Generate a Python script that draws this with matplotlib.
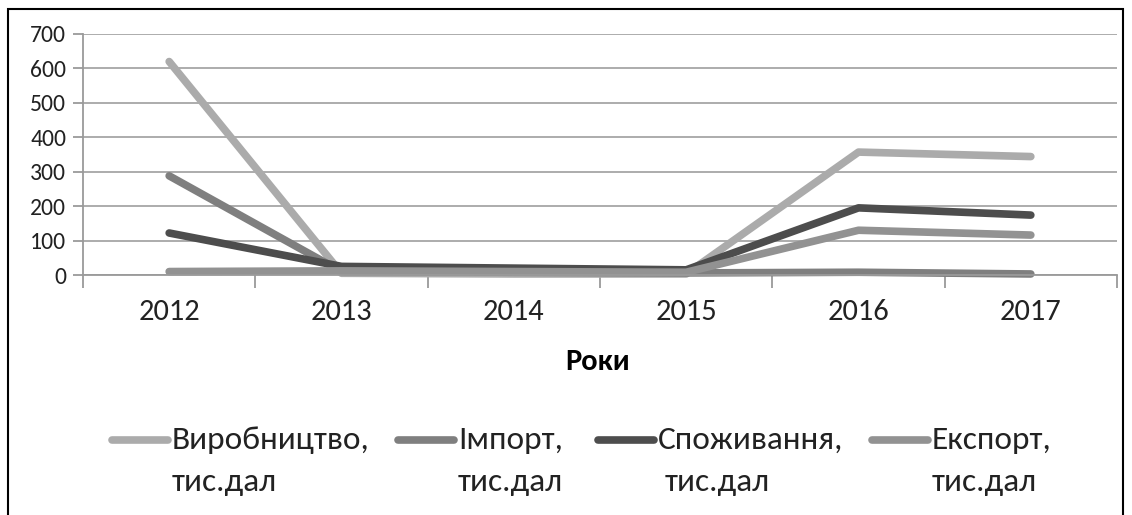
import matplotlib
matplotlib.use("Agg")
import matplotlib.pyplot as plt
from matplotlib.lines import Line2D
from matplotlib.patches import Rectangle
import numpy as np

# дані
years = ['2012', '2013', '2014', '2015', '2016', '2017']
vyrobnytstvo = [620, 5, 3, 3, 357, 344]
import_ = [288, 10, 8, 6, 8, 3]
spozhyvannia = [122, 25, 20, 15, 195, 174]
eksport = [10, 12, 10, 8, 130, 116]
series_names = ['Виробництво,', 'Імпорт,', 'Споживання,', 'Експорт,']
unit = 'тис.дал'

# Carlito ~ Calibri, далі запасні
plt.rcParams['font.family'] = ['Carlito', 'Open Sans', 'DejaVu Sans']

W, H = 1132, 515
fig = plt.figure(figsize=(W / 100, H / 100), dpi=100)

def fx(px):
    return px / W

def fy(py):
    return 1 - py / H

# рамка навколо
fig.add_artist(Rectangle((fx(8), fy(530)), fx(1123) - fx(8), fy(9) - fy(530),
                         transform=fig.transFigure, fill=False, edgecolor='black', lw=1.5))

ax = fig.add_axes([fx(83), fy(275), fx(1117) - fx(83), fy(34) - fy(275)])

colors = ['#ababab', '#7f7f7f', '#4d4d4d', '#929292']
data = [vyrobnytstvo, import_, spozhyvannia, eksport]
x = np.arange(len(years))
for vals, c in zip(data, colors):
    ax.plot(x, vals, color=c, lw=5.5, solid_capstyle='round', solid_joinstyle='round', clip_on=False)

ax.set_xlim(-0.5, len(years) - 0.5)
ax.set_ylim(0, 700)
ax.set_yticks(range(0, 701, 100))
ax.yaxis.grid(True, color='#a6a6a6', lw=1.3)
ax.set_axisbelow(True)

ax.set_xticks(x)
ax.set_xticklabels(years, fontsize=22, color='#222222')
ax.set_xticks(np.arange(-0.5, len(years), 1), minor=True)
ax.tick_params(axis='x', which='major', length=0, pad=17)
ax.tick_params(axis='x', which='minor', length=9, color='#9a9a9a', width=1.3)
ax.tick_params(axis='y', length=7, color='#9a9a9a', width=1.3, labelsize=17,
               labelcolor='#222222', pad=5)

for s in ['top', 'right']:
    ax.spines[s].set_visible(False)
for s in ['left', 'bottom']:
    ax.spines[s].set_color('#9a9a9a')
    ax.spines[s].set_linewidth(1.3)

fig.text(fx(598), fy(362), 'Роки', ha='center', va='center', fontsize=22, fontweight='bold')

# легенда вручну
leg_handle_x = [112, 398, 598, 872]
leg_text2_x = [172, 458, 665, 932]
for name, c, hx, tx in zip(series_names, colors, leg_handle_x, leg_text2_x):
    fig.add_artist(Line2D([fx(hx), fx(hx + 56)], [fy(440), fy(440)], transform=fig.transFigure,
                          color=c, lw=5.5, solid_capstyle='round'))
    fig.text(fx(hx + 60), fy(440), name, ha='left', va='center', fontsize=24, color='#222222')
    fig.text(fx(tx), fy(482), unit, ha='left', va='center', fontsize=24, color='#222222')

fig.savefig('out.png', dpi=100)
